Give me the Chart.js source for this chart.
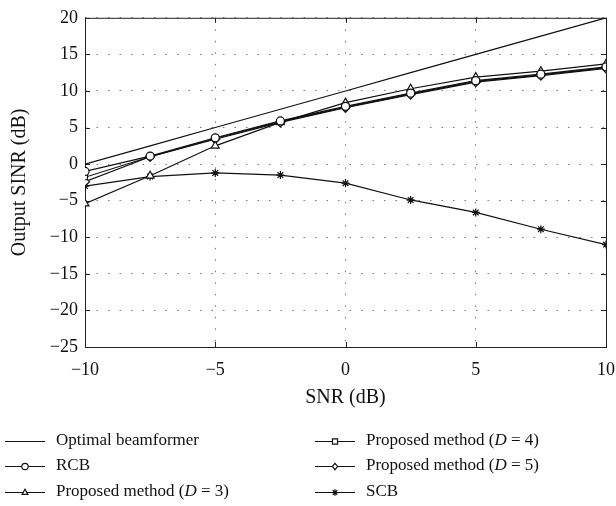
<!DOCTYPE html>
<html>
<head>
<meta charset="utf-8">
<script src="https://cdn.jsdelivr.net/npm/chart.js@4.4.1/dist/chart.umd.min.js"></script>
<style>
  html, body { margin: 0; padding: 0; background: #fff; }
  #wrap { width: 616px; height: 506px; }
</style>
</head>
<body>
<div id="wrap"><canvas id="sinrChart" width="616" height="506"></canvas></div>
<script>
// Data
const snr = [-10, -7.5, -5, -2.5, 0, 2.5, 5, 7.5, 10];
const optimal = [0, 2.5, 5, 7.5, 10, 12.5, 15, 17.5, 20];
const rcb = [-1.0, 1.1, 3.6, 5.9, 7.9, 9.7, 11.4, 12.3, 13.3];
const propD3 = [-5.4, -1.6, 2.5, 5.7, 8.4, 10.3, 11.9, 12.7, 13.7];
const propD4 = [-1.8, 1.0, 3.5, 5.8, 7.8, 9.6, 11.3, 12.2, 13.2];
const propD5 = [-2.4, 1.0, 3.4, 5.7, 7.7, 9.5, 11.2, 12.1, 13.1];
const scb = [-3.0, -1.7, -1.2, -1.5, -2.6, -4.9, -6.6, -8.9, -11.0];
const xTicks = [-10, -5, 0, 5, 10];
const yTicks = [-25, -20, -15, -10, -5, 0, 5, 10, 15, 20];

const serif = '"Liberation Serif", "DejaVu Serif", serif';

function pts(ys) {
    return snr.map((x, i) => ({ x: x, y: ys[i] }));
}

function series(label, ys, style, radius) {
    return {
        label: label,
        data: pts(ys),
        borderColor: '#111',
        borderWidth: 1.2,
        pointStyle: style,
        pointRadius: style ? radius : 0,
        pointBorderColor: '#111',
        pointBorderWidth: 1.2,
        pointBackgroundColor: style === 'star' ? '#111' : '#fff',
        tension: 0
    };
}

// legend rows: [column, row, dataset index, text parts]
const legendItems = [
    [0, 0, 0, [['Optimal beamformer', 'normal']]],
    [0, 1, 1, [['RCB', 'normal']]],
    [0, 2, 2, [['Proposed method (', 'normal'], ['D', 'italic'], [' = 3)', 'normal']]],
    [1, 0, 3, [['Proposed method (', 'normal'], ['D', 'italic'], [' = 4)', 'normal']]],
    [1, 1, 4, [['Proposed method (', 'normal'], ['D', 'italic'], [' = 5)', 'normal']]],
    [1, 2, 5, [['SCB', 'normal']]]
];

function drawMarker(ctx, style, x, y, r, fill) {
    ctx.beginPath();
    if (style === 'circle') {
        ctx.arc(x, y, r, 0, Math.PI * 2);
    } else if (style === 'rect') {
        ctx.rect(x - r * 0.8, y - r * 0.8, r * 1.6, r * 1.6);
    } else if (style === 'triangle') {
        ctx.moveTo(x, y - r);
        ctx.lineTo(x + r * 0.9, y + r * 0.6);
        ctx.lineTo(x - r * 0.9, y + r * 0.6);
        ctx.closePath();
    } else if (style === 'rectRot') {
        ctx.moveTo(x, y - r);
        ctx.lineTo(x + r * 0.8, y);
        ctx.lineTo(x, y + r);
        ctx.lineTo(x - r * 0.8, y);
        ctx.closePath();
    } else if (style === 'star') {
        for (let k = 0; k < 4; k++) {
            const a = k * Math.PI / 4;
            ctx.moveTo(x - Math.cos(a) * r, y - Math.sin(a) * r);
            ctx.lineTo(x + Math.cos(a) * r, y + Math.sin(a) * r);
        }
        ctx.stroke();
        return;
    }
    ctx.fillStyle = fill;
    ctx.fill();
    ctx.stroke();
}

// frame, inward ticks and the two-column legend
const framePlugin = {
    id: 'frame',
    beforeDatasetsDraw(chart) {
        const { ctx, chartArea: a, scales } = chart;
        ctx.save();
        ctx.strokeStyle = '#222';
        ctx.lineWidth = 1;
        ctx.strokeRect(a.left + 0.5, a.top + 0.5, a.right - a.left, a.bottom - a.top);
        ctx.beginPath();
        xTicks.forEach(v => {
            const px = Math.round(scales.x.getPixelForValue(v)) + 0.5;
            ctx.moveTo(px, a.bottom); ctx.lineTo(px, a.bottom - 5);
            ctx.moveTo(px, a.top); ctx.lineTo(px, a.top + 5);
        });
        yTicks.forEach(v => {
            const py = Math.round(scales.y.getPixelForValue(v)) + 0.5;
            ctx.moveTo(a.left, py); ctx.lineTo(a.left + 5, py);
            ctx.moveTo(a.right, py); ctx.lineTo(a.right - 5, py);
        });
        ctx.stroke();
        ctx.restore();
    },
    afterDraw(chart) {
        const ctx = chart.ctx;
        const colX = [5, 315];
        const rowY = [441, 466, 492];
        ctx.save();
        legendItems.forEach(item => {
            const ds = chart.data.datasets[item[2]];
            const x0 = colX[item[0]];
            const y = rowY[item[1]];
            ctx.strokeStyle = '#111';
            ctx.lineWidth = 1.2;
            ctx.beginPath();
            ctx.moveTo(x0, y + 0.5);
            ctx.lineTo(x0 + 40, y + 0.5);
            ctx.stroke();
            if (ds.pointRadius > 0) {
                drawMarker(ctx, ds.pointStyle, x0 + 20, y + 0.5, 3.2, '#fff');
            }
            let tx = x0 + 51;
            ctx.fillStyle = '#111';
            ctx.textBaseline = 'middle';
            item[3].forEach(part => {
                ctx.font = part[1] + ' 17px ' + serif;
                ctx.fillText(part[0], tx, y);
                tx += ctx.measureText(part[0]).width;
            });
        });
        ctx.restore();
    }
};

function minusSign(v) {
    return String(v).replace('-', '\u2212');
}

document.addEventListener('DOMContentLoaded', function() {
    const ctx = document.getElementById('sinrChart').getContext('2d');

    new Chart(ctx, {
        type: 'line',
        data: {
            datasets: [
                series('Optimal beamformer', optimal, false, 0),
                series('RCB', rcb, 'circle', 4),
                series('Proposed method (D = 3)', propD3, 'triangle', 4.5),
                series('Proposed method (D = 4)', propD4, 'rect', 3.5),
                series('Proposed method (D = 5)', propD5, 'rectRot', 4.5),
                series('SCB', scb, 'star', 4)
            ]
        },
        options: {
            responsive: false,
            animation: false,
            layout: { padding: { left: 0, right: 10, top: 16, bottom: 96 } },
            plugins: {
                legend: { display: false },
                tooltip: { enabled: false }
            },
            scales: {
                x: {
                    type: 'linear',
                    min: -10,
                    max: 10,
                    afterFit: s => { s.height = 63; s.paddingRight = 0; s.paddingLeft = 0; },
                    ticks: {
                        stepSize: 5,
                        padding: 12,
                        color: '#111',
                        font: { family: serif, size: 18 },
                        callback: minusSign
                    },
                    grid: { color: '#777', drawTicks: false, lineWidth: 1 },
                    border: { display: false, dash: [1.5, 10] },
                    title: {
                        display: true,
                        text: 'SNR (dB)',
                        color: '#111',
                        font: { family: serif, size: 20 },
                        padding: { top: 0, bottom: 0 }
                    }
                },
                y: {
                    type: 'linear',
                    min: -25,
                    max: 20,
                    afterFit: s => { s.width = 85; },
                    ticks: {
                        stepSize: 5,
                        padding: 7,
                        color: '#111',
                        font: { family: serif, size: 18 },
                        callback: minusSign
                    },
                    grid: { color: '#777', drawTicks: false, lineWidth: 1 },
                    border: { display: false, dash: [1.5, 10] },
                    title: {
                        display: true,
                        text: 'Output SINR (dB)',
                        color: '#111',
                        font: { family: serif, size: 20 },
                        padding: { top: 8, bottom: 0 }
                    }
                }
            }
        },
        plugins: [framePlugin]
    });
});
</script>
</body>
</html>
